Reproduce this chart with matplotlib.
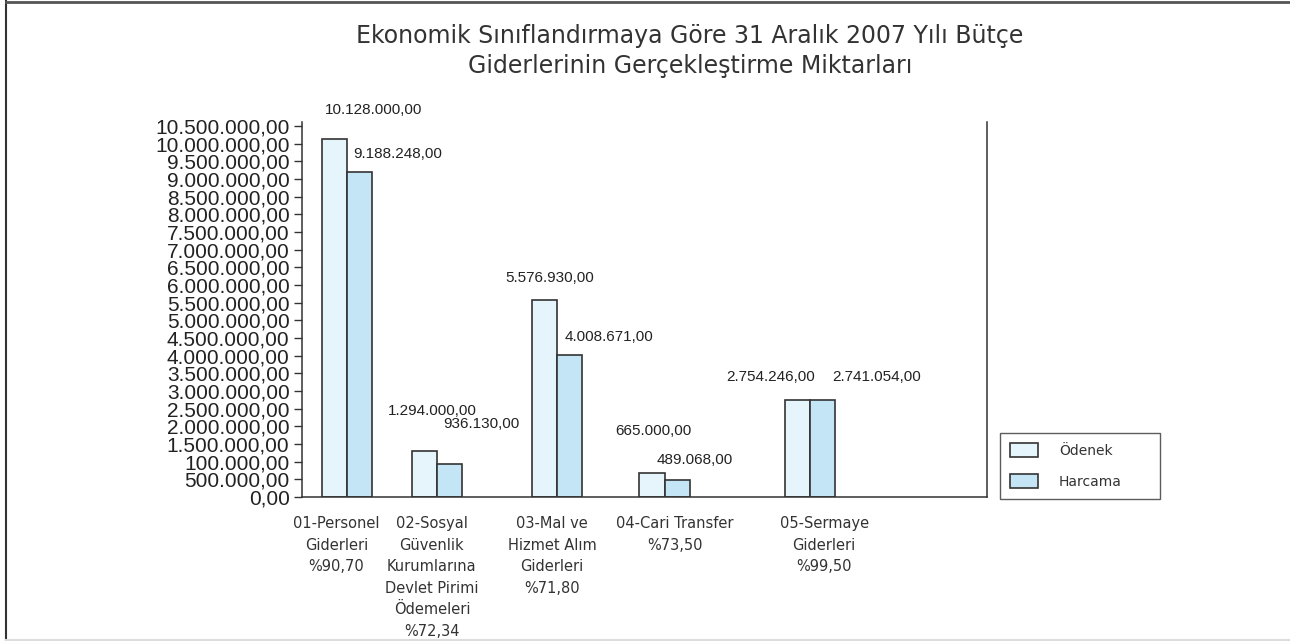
import numpy as np
import matplotlib
matplotlib.use("Agg")
import matplotlib.pyplot as plt
from matplotlib.lines import Line2D

# Bütçe giderleri, 31 Aralık 2007
categories = [
    "01-Personel\nGiderleri\n%90,70",
    "02-Sosyal\nGüvenlik\nKurumlarına\nDevlet Pirimi\nÖdemeleri\n%72,34",
    "03-Mal ve\nHizmet Alım\nGiderleri\n%71,80",
    "04-Cari Transfer\n%73,50",
    "05-Sermaye\nGiderleri\n%99,50",
]
odenek = [10128000, 1294000, 5576930, 665000, 2754246]
harcama = [9188248, 936130, 4008671, 489068, 2741054]

ytick_vals = np.arange(0, 10500001, 500000)
ytick_labels = ["0,00", "500.000,00", "100.000,00", "1.500.000,00", "2.000.000,00",
                "2.500.000,00", "3.000.000,00", "3.500.000,00", "4.000.000,00",
                "4.500.000,00", "5.000.000,00", "5.500.000,00", "6.000.000,00",
                "6.500.000,00", "7.000.000,00", "7.500.000,00", "8.000.000,00",
                "8.500.000,00", "9.000.000,00", "9.500.000,00", "10.000.000,00",
                "10.500.000,00"]

title_lines = ["Ekonomik Sınıflandırmaya Göre 31 Aralık 2007 Yılı Bütçe",
               "Giderlerinin Gerçekleştirme Miktarları"]
series_names = ["Ödenek", "Harcama"]

# layout (bar-width units along x)
group_pos = [1.77, 5.32, 10.05, 14.3, 20.02]
label_pos = [1.36, 5.12, 9.85, 14.7, 20.58]
# label offsets in pixels from bar left edge / bar top
odenek_off = [(3, 25), (-24, 36), (-26, 18), (-24, 38), (-58, 19)]
harcama_off = [(6, 14), (6, 36), (8, 14), (-8, 16), (22, 19)]

col_odenek = "#e6f4fc"
col_harcama = "#c4e5f6"
edge = "#333333"
txt_gray = "#333333"


def tr_fmt(v):
    s = f"{v:,.2f}"
    return s.replace(",", "X").replace(".", ",").replace("X", ".")


W, H = 1290, 641
fig = plt.figure(figsize=(W / 100, H / 100), dpi=100)
ax = fig.add_axes([302 / W, 1 - 497 / H, 685 / W, (497 - 122) / H])

ax.bar([p - 0.5 for p in group_pos], odenek, width=1.0, color=col_odenek,
       edgecolor=edge, linewidth=1.2, label=series_names[0])
ax.bar([p + 0.5 for p in group_pos], harcama, width=1.0, color=col_harcama,
       edgecolor=edge, linewidth=1.2, label=series_names[1])

ax.set_xlim(0, 27.0)
ax.set_ylim(0, 10.61e6)

for p, v, (dx, dy) in zip(group_pos, odenek, odenek_off):
    ax.annotate(tr_fmt(v), xy=(p - 1, v), xytext=(dx, dy), textcoords="offset pixels",
                ha="left", va="baseline", fontsize=11, color="#222222",
                family="Liberation Sans")
for p, v, (dx, dy) in zip(group_pos, harcama, harcama_off):
    ax.annotate(tr_fmt(v), xy=(p, v), xytext=(dx, dy), textcoords="offset pixels",
                ha="left", va="baseline", fontsize=11, color="#222222",
                family="Liberation Sans")

for x, lab in zip(label_pos, categories):
    ax.annotate(lab, xy=(x, 0), xycoords=("data", "axes fraction"), xytext=(0, -19),
                textcoords="offset pixels", ha="center", va="top", fontsize=10.5,
                color=txt_gray, linespacing=1.55)

ax.set_yticks(ytick_vals)
ax.set_yticklabels(ytick_labels, fontsize=15, family="Liberation Sans", color="#222222")
ax.tick_params(axis="y", direction="out", length=6, width=1.0, pad=3, color=edge)
ax.set_xticks([])

ax.spines["top"].set_visible(False)
for s in ["left", "bottom", "right"]:
    ax.spines[s].set_color(edge)
    ax.spines[s].set_linewidth(1.1)

fig.text(690 / W, 1 - 43 / H, title_lines[0], ha="center", va="baseline",
         fontsize=17, color=txt_gray)
fig.text(690 / W, 1 - 73 / H, title_lines[1], ha="center", va="baseline",
         fontsize=17, color=txt_gray)

leg = fig.legend(loc="upper left", bbox_to_anchor=(1000 / W, 1 - 433 / H, 160 / W, 0),
                 mode="expand", fontsize=10, frameon=True, fancybox=False,
                 handlelength=2.0, handleheight=1.15, handletextpad=1.5,
                 labelspacing=1.15, borderpad=0.75, borderaxespad=0)
leg.get_frame().set_edgecolor(edge)
leg.get_frame().set_linewidth(1.0)
for t in leg.get_texts():
    t.set_color(txt_gray)

# outer frame
fig.add_artist(Line2D([6 / W, 6 / W], [0, 1], transform=fig.transFigure, color="#333333", lw=1.5))
fig.add_artist(Line2D([6 / W, 1], [1 - 1.5 / H, 1 - 1.5 / H], transform=fig.transFigure,
                      color="#555555", lw=2))
fig.add_artist(Line2D([6 / W, 1], [1 / H, 1 / H], transform=fig.transFigure,
                      color="#dddddd", lw=1.5))

fig.savefig("out.png", dpi=100)
